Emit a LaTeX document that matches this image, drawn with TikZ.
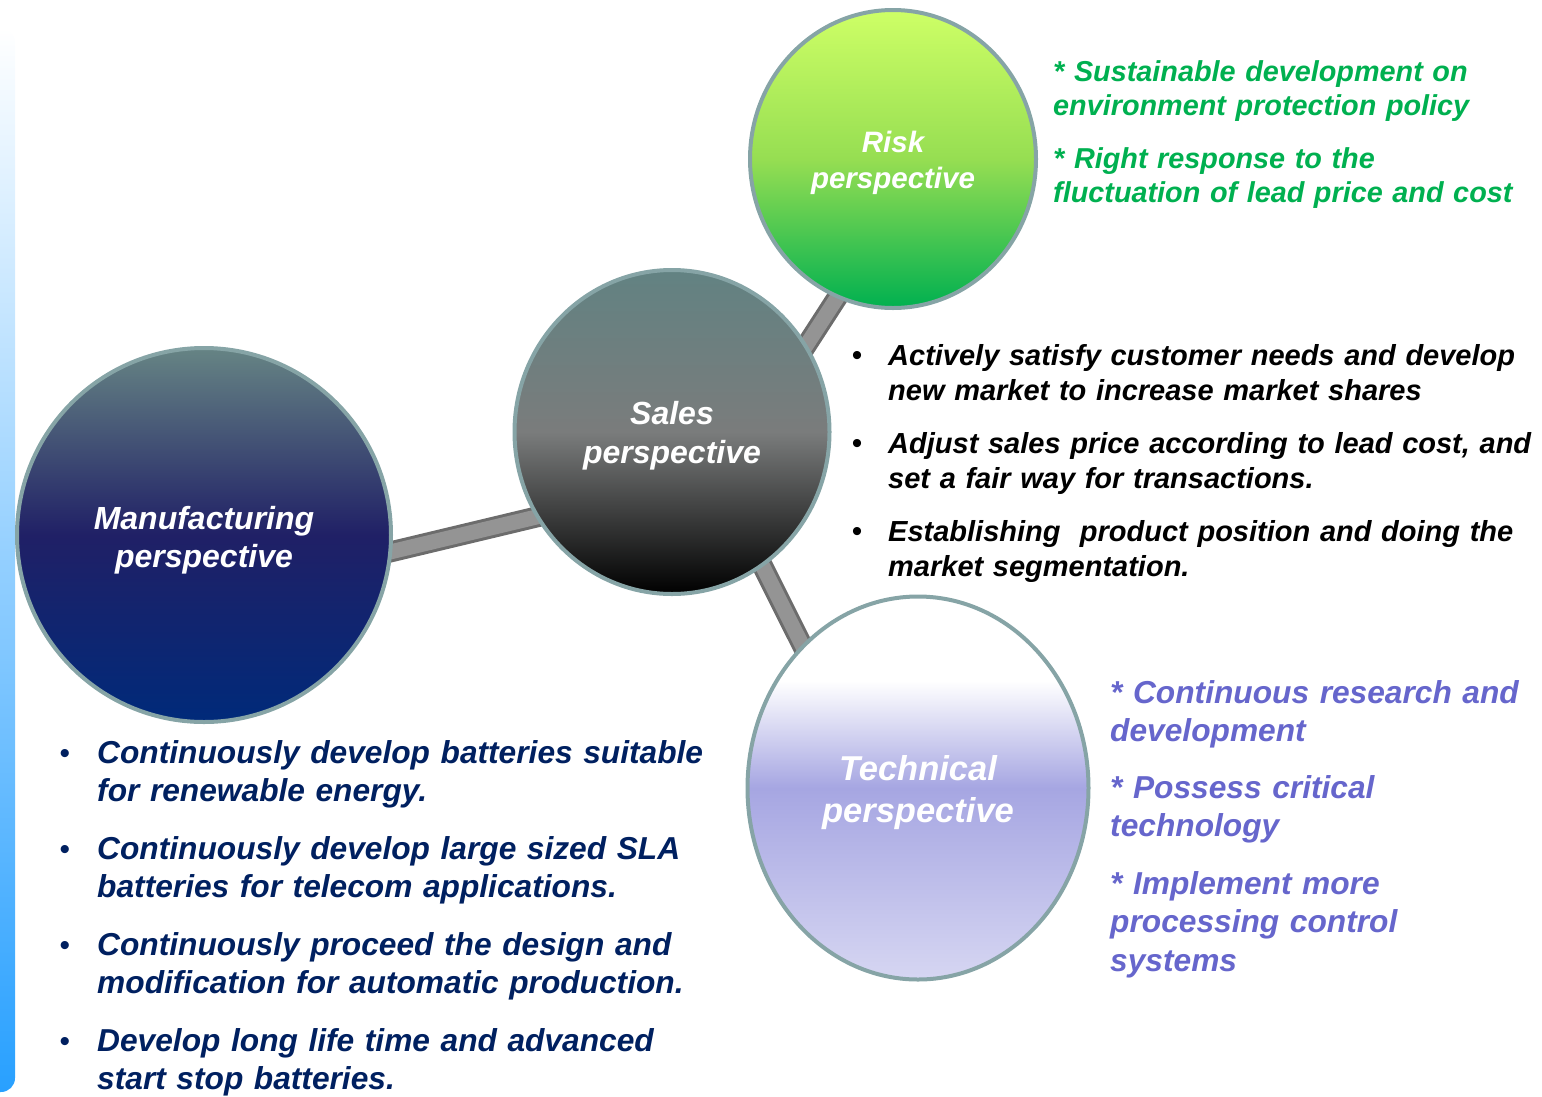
\documentclass[tikz,border=0pt]{standalone}
\usepackage{fontspec}
\setmainfont{Liberation Sans}
\usetikzlibrary{shapes.geometric,backgrounds,positioning}

\definecolor{rimgray}{RGB}{134,164,166}
\definecolor{riskgreen}{RGB}{0,176,80}
\definecolor{techblue}{RGB}{102,102,204}
\definecolor{manunavy}{RGB}{0,32,96}
\definecolor{bargray}{RGB}{148,148,148}
\definecolor{baredge}{RGB}{108,108,108}
\definecolor{techmid}{RGB}{166,166,226}
\definecolor{techbot}{RGB}{214,214,242}
\pgfdeclareverticalshading{techshade}{100bp}{color(0bp)=(techbot); color(25bp)=(techbot);
  color(50bp)=(techmid); color(64bp)=(white); color(100bp)=(white)}

\tikzset{
  persp/.style={ellipse,draw=rimgray,line width=4pt,inner sep=0pt},
  circlabel/.style={text=white,align=center,inner sep=0pt},
  link/.style={draw=baredge,line width=3pt,double=bargray,double distance=15pt,
    shorten <=-18pt,shorten >=-18pt},
  itemtext/.style={anchor=base west,inner sep=0pt,text width=660pt,align=left},
  bul/.style={anchor=base,inner sep=0pt,font=\fontsize{30}{30}\selectfont}
}

\begin{document}
\begin{tikzpicture}[x=1pt,y=-1pt]
		\useasboundingbox (0,0) rectangle (1542,1096);
		% blue strip at the left edge
		\shade[top color=white,bottom color={rgb,255:red,40;green,160;blue,255},rounded corners=14pt]
		  (-20,28) rectangle (15,1092);
		
		% the four perspectives
		\node[persp,minimum width=286pt,minimum height=298pt,
		  top color={rgb,255:red,206;green,255;blue,102},bottom color=riskgreen,middle color={rgb,255:red,150;green,222;blue,82}] (risk) at (893,159) {};
		\node[persp,minimum width=315pt,minimum height=324pt,
		  top color={rgb,255:red,98;green,130;blue,130},bottom color=black,middle color={rgb,255:red,122;green,124;blue,124}] (sales) at (672,432) {};
		\node[persp,minimum width=374pt,minimum height=374pt,
		  top color={rgb,255:red,102;green,132;blue,132},bottom color={rgb,255:red,0;green,42;blue,122},middle color={rgb,255:red,32;green,32;blue,102}] (manu) at (204,535) {};
		\node[persp,minimum width=341pt,minimum height=383pt,shading=techshade] (tech) at (918,788) {};
		
		\node[circlabel,font=\fontsize{29.5}{36}\selectfont\bfseries\itshape] (risk-t) at ([yshift=-4pt]risk.center) {Risk\\perspective};
		\node[circlabel,font=\fontsize{32}{39}\selectfont\bfseries\itshape] (sales-t) at ([yshift=-4pt]sales.center) {Sales\\perspective};
		\node[circlabel,font=\fontsize{32}{38}\selectfont\bfseries\itshape] (manu-t) at ([yshift=-5pt]manu.center) {Manufacturing\\perspective};
		\node[circlabel,font=\fontsize{34.5}{42}\selectfont\bfseries\itshape] (tech-t) at ([yshift=-5pt]tech.center) {Technical\\perspective};
		
		\begin{scope}[on background layer]
		\draw[link] (manu.-5) -- (sales.212);
		\draw[link] (sales.33) -- (risk.248);
		\draw[link] (sales.304) -- (tech.129);
		\end{scope}
		
		% risk notes
		\begin{scope}[font=\fontsize{28.8}{34}\selectfont\bfseries\itshape,text=riskgreen]
		\node[itemtext] (r1) at (1053,81) {* Sustainable development on\\environment protection policy};
		\node[itemtext] (r2) at (1053,168) {* Right response to the\\fluctuation of lead price and cost};
		\end{scope}
		
		% sales notes
		\begin{scope}[font=\fontsize{29}{35}\selectfont\bfseries\itshape]
		\node[itemtext] (s1) at (888,365) {Actively satisfy customer needs and develop\\new market to increase market shares};
		\node[itemtext] (s2) at (888,453) {Adjust sales price according to lead cost, and\\set a fair way for transactions.};
		\node[itemtext] (s3) at (888,541) {Establishing\ \ product position and doing the\\market segmentation.};
		\end{scope}
		\node[bul] (bs1) at ([xshift=-31pt]s1.base west) {\textbullet};
		\node[bul] (bs2) at ([xshift=-31pt]s2.base west) {\textbullet};
		\node[bul] (bs3) at ([xshift=-31pt]s3.base west) {\textbullet};
		
		% technical notes
		\begin{scope}[font=\fontsize{31.7}{38.5}\selectfont\bfseries\itshape,text=techblue]
		\node[itemtext] (t1) at (1110,703) {* Continuous research and\\development};
		\node[itemtext] (t2) at (1110,798) {* Possess critical\\technology};
		\node[itemtext] (t3) at (1110,894) {* Implement more\\processing control\\systems};
		\end{scope}
		
		% manufacturing notes
		\begin{scope}[font=\fontsize{31.7}{38}\selectfont\bfseries\itshape,text=manunavy]
		\node[itemtext] (m1) at (97,763) {Continuously develop batteries suitable\\for renewable energy.};
		\node[itemtext] (m2) at (97,859) {Continuously develop large sized SLA\\batteries for telecom applications.};
		\node[itemtext] (m3) at (97,955) {Continuously proceed the design and\\modification for automatic production.};
		\node[itemtext] (m4) at (97,1051) {Develop long life time and advanced\\start stop batteries.};
		\end{scope}
		\node[bul,text=manunavy] (bm1) at ([xshift=-32pt]m1.base west) {\textbullet};
		\node[bul,text=manunavy] (bm2) at ([xshift=-32pt]m2.base west) {\textbullet};
		\node[bul,text=manunavy] (bm3) at ([xshift=-32pt]m3.base west) {\textbullet};
		\node[bul,text=manunavy] (bm4) at ([xshift=-32pt]m4.base west) {\textbullet};
		
\end{tikzpicture}
\end{document}
